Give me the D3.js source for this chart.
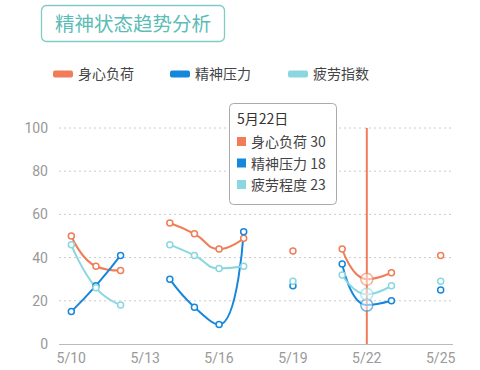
<!DOCTYPE html>
<html><head><meta charset="utf-8">
<script src="https://cdn.jsdelivr.net/npm/d3@7"></script>
<style>body{margin:0;background:#fff;}svg{display:block;font-family:"Noto Sans CJK SC",Roboto,sans-serif;}</style>
</head><body><svg id="c" width="480" height="370"></svg>
<script>
const title = "精神状态趋势分析";
const dates = ["5/10","5/11","5/12","5/13","5/14","5/15","5/16","5/17","5/18","5/19","5/20","5/21","5/22","5/23","5/24","5/25"];
const seriesNames = ["身心负荷","精神压力","疲劳指数"];
const tooltipNames = ["身心负荷","精神压力","疲劳程度"];
const colors = ["#f07d57","#1787dc","#8ad7e0"];
const load = [50,36,34,null,56,51,44,49,null,43,null,44,30,33,null,41];
const stress = [15,27,41,null,30,17,9,52,null,27,null,37,18,20,null,25];
const fatigue = [46,26,18,null,46,41,35,36,null,29,null,32,23,27,null,29];
const yTicks = [0,20,40,60,80,100];
const xTickLabels = ["5/10","5/13","5/16","5/19","5/22","5/25"];
const activeIndex = 12;
const tooltipTitle = "5月22日";

const data = [load, stress, fatigue];
const svg = d3.select("#c");
const pLeft = 59, pRight = 453, pTop = 128, pBottom = 344;
const x = d3.scaleBand().domain(dates).range([pLeft, pRight]);
const y = d3.scaleLinear().domain([0,100]).range([pBottom, pTop]);
const cx = d => x(d) + x.bandwidth()/2;

// Smooth curve with constrained control points (no overshoot)
function SmoothCurve(context){ this._context = context; this._s = 0.5; }
SmoothCurve.prototype = {
  areaStart(){ this._line = 0; }, areaEnd(){ this._line = NaN; },
  lineStart(){ this._pts = []; },
  point(px,py){ this._pts.push([+px,+py]); },
  lineEnd(){
    const p = this._pts, c = this._context, s = this._s, n = p.length;
    if(!n) return;
    c.moveTo(p[0][0],p[0][1]);
    if(n===1){ c.lineTo(p[0][0],p[0][1]); return; }
    const clamp=(v,a,b)=>Math.max(Math.min(a,b),Math.min(Math.max(a,b),v));
    let cp1x=p[0][0], cp1y=p[0][1];
    for(let i=1;i<n;i++){
      const [x0,y0]=p[i];
      let cp0x=x0, cp0y=y0, nx=x0, ny=y0;
      if(i<n-1){
        const [xp,yp]=p[i-1], [xn,yn]=p[i+1];
        let vx=xn-xp, vy=yn-yp;
        const lp=Math.hypot(x0-xp,y0-yp), ln=Math.hypot(xn-x0,yn-y0);
        const r=ln/(ln+lp);
        nx=clamp(x0+vx*s*r,x0,xn); ny=clamp(y0+vy*s*r,y0,yn);
        vx=nx-x0; vy=ny-y0;
        cp0x=clamp(x0-vx*lp/ln,xp,x0); cp0y=clamp(y0-vy*lp/ln,yp,y0);
        vx=x0-cp0x; vy=y0-cp0y;
        nx=x0+vx*ln/lp; ny=y0+vy*ln/lp;
      }
      c.bezierCurveTo(cp1x,cp1y,cp0x,cp0y,x0,y0);
      cp1x=nx; cp1y=ny;
    }
  }
};
const curveSmooth = ctx => new SmoothCurve(ctx);

// title
svg.append("rect").attr("x",41.5).attr("y",5.5).attr("width",183).attr("height",36).attr("rx",5)
  .attr("fill","#fff").attr("stroke","#7fcbc6").attr("stroke-width",1.3);
svg.append("text").attr("x",133).attr("y",31).attr("text-anchor","middle").attr("font-size",19.5)
  .attr("fill","#5cbcb6").text(title);

// legend
const legX = [53,170,288];
seriesNames.forEach((n,i)=>{
  svg.append("rect").attr("x",legX[i]).attr("y",70.5).attr("width",20).attr("height",7).attr("rx",2).attr("fill",colors[i]);
  svg.append("text").attr("x",legX[i]+25).attr("y",79).attr("font-size",14).attr("fill","#444").text(n);
});

// grid
yTicks.forEach(t=>{
  if(t>0) svg.append("line").attr("x1",pLeft).attr("x2",pRight).attr("y1",y(t)).attr("y2",y(t))
    .attr("stroke","#ccc").attr("stroke-dasharray","2,3");
  svg.append("text").attr("x",48).attr("y",y(t)+5).attr("text-anchor","end").attr("font-size",14)
    .attr("fill","#999").attr("font-family","Roboto").text(t);
});
svg.append("line").attr("x1",pLeft).attr("x2",pRight).attr("y1",pBottom+0.5).attr("y2",pBottom+0.5).attr("stroke","#bbb");
xTickLabels.forEach(l=>{
  svg.append("text").attr("x",cx(l)).attr("y",363).attr("text-anchor","middle").attr("font-size",14)
    .attr("fill","#999").attr("font-family","Roboto").text(l);
});

// pointer line
svg.append("line").attr("x1",cx(dates[activeIndex])).attr("x2",cx(dates[activeIndex])).attr("y1",pTop).attr("y2",pBottom)
  .attr("stroke","#f07d57").attr("stroke-width",2);

// lines
const line = d3.line().defined(d=>d.v!=null).x(d=>cx(d.d)).y(d=>y(d.v)).curve(curveSmooth);
data.forEach((s,i)=>{
  const pts = s.map((v,j)=>({d:dates[j],v}));
  svg.append("path").attr("d",line(pts)).attr("fill","none").attr("stroke",colors[i]).attr("stroke-width",2);
});
data.forEach((s,i)=>{
  s.forEach((v,j)=>{
    if(v==null) return;
    if(j===activeIndex){
      svg.append("circle").attr("cx",cx(dates[j])).attr("cy",y(v)).attr("r",6)
        .attr("fill","rgba(255,255,255,0.5)").attr("stroke",colors[i]).attr("stroke-opacity",0.6).attr("stroke-width",1.5);
    } else {
      svg.append("circle").attr("cx",cx(dates[j])).attr("cy",y(v)).attr("r",3)
        .attr("fill","#fff").attr("stroke",colors[i]).attr("stroke-width",1.5);
    }
  });
});

// tooltip
const tg = svg.append("g");
tg.append("rect").attr("x",229.5).attr("y",103.5).attr("width",107).attr("height",101).attr("rx",4)
  .attr("fill","rgba(255,255,255,0.95)").attr("stroke","#aaa").attr("stroke-width",1);
tg.append("text").attr("x",237).attr("y",124).attr("font-size",14).attr("fill","#333").text(tooltipTitle);
tooltipNames.forEach((n,i)=>{
  const yy = 147 + i*21.5;
  tg.append("rect").attr("x",237).attr("y",yy-10).attr("width",9).attr("height",9).attr("fill",colors[i]);
  tg.append("text").attr("x",251).attr("y",yy).attr("font-size",14).attr("fill","#444").text(n+" "+data[i][activeIndex]);
});
</script></body></html>
